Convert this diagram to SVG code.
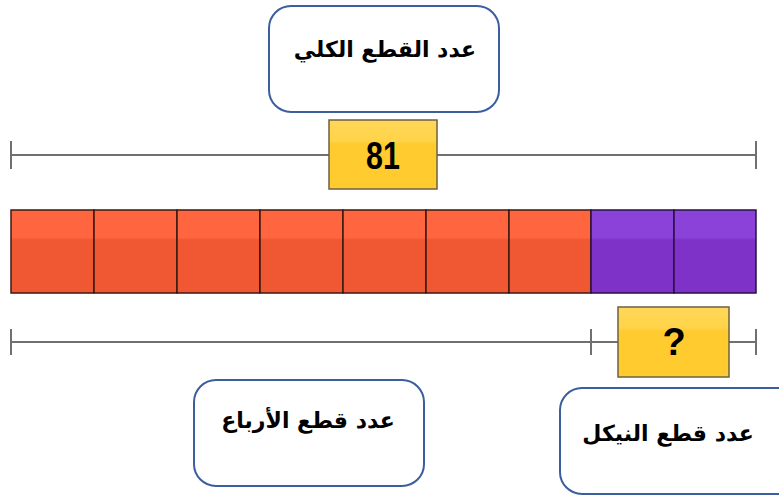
<svg xmlns="http://www.w3.org/2000/svg" width="779" height="496" viewBox="0 0 779 496">
<defs>
<linearGradient id="gy" x1="0" y1="0" x2="0" y2="1"><stop offset="0" stop-color="#FFD75A"/><stop offset="0.3" stop-color="#FFD448"/><stop offset="0.35" stop-color="#FFCB2E"/><stop offset="1" stop-color="#FFCB2E"/></linearGradient>
<linearGradient id="go" x1="0" y1="0" x2="0" y2="1"><stop offset="0" stop-color="#FF6640"/><stop offset="0.33" stop-color="#FF6640"/><stop offset="0.36" stop-color="#F05833"/><stop offset="1" stop-color="#F05833"/></linearGradient>
<linearGradient id="gp" x1="0" y1="0" x2="0" y2="1"><stop offset="0" stop-color="#8B42D8"/><stop offset="0.33" stop-color="#8B42D8"/><stop offset="0.36" stop-color="#7E32C8"/><stop offset="1" stop-color="#7E32C8"/></linearGradient>
</defs>
<style>
.lbl{fill:#fff;stroke:#3A5E9E;stroke-width:2}
.ar{font-family:"DejaVu Sans",sans-serif;font-weight:bold;font-size:22px;fill:#000;text-anchor:middle}
.num{font-family:"Liberation Sans",Arial,sans-serif;font-weight:bold;font-size:38px;fill:#000;text-anchor:middle}
.ln{stroke:#707070;stroke-width:2;fill:none}
.yb{fill:url(#gy);stroke:#6E6040;stroke-width:1.5}
.o{fill:url(#go);stroke:#3A1A10;stroke-width:1.5}
.p{fill:url(#gp);stroke:#2A1040;stroke-width:1.5}
</style>
<rect width="779" height="496" fill="#fff"/>
<g id="connectors">
<line class="ln" x1="11" y1="155" x2="756" y2="155"/>
<line class="ln" x1="11" y1="141" x2="11" y2="169"/>
<line class="ln" x1="756" y1="141" x2="756" y2="169"/>
<line class="ln" x1="11" y1="342" x2="756" y2="342"/>
<line class="ln" x1="11" y1="329" x2="11" y2="355"/>
<line class="ln" x1="591" y1="329" x2="591" y2="355"/>
<line class="ln" x1="756" y1="329" x2="756" y2="355"/>
</g>
<g id="label-total"><rect class="lbl" x="269" y="6" width="230" height="106" rx="22"/><text class="ar" x="385" y="57">عدد القطع الكلي</text></g>
<g id="value-81"><rect class="yb" x="329" y="120" width="108" height="69"/><text class="num" x="383" y="169" transform="translate(383 0) scale(0.8 1) translate(-383 0)">81</text></g>
<g id="bar">
<rect class="o" x="11" y="210" width="83" height="83"/>
<rect class="o" x="94" y="210" width="83" height="83"/>
<rect class="o" x="177" y="210" width="83" height="83"/>
<rect class="o" x="260" y="210" width="83" height="83"/>
<rect class="o" x="343" y="210" width="83" height="83"/>
<rect class="o" x="426" y="210" width="83" height="83"/>
<rect class="o" x="509" y="210" width="82" height="83"/>
<rect class="p" x="591" y="210" width="83" height="83"/>
<rect class="p" x="674" y="210" width="82" height="83"/>
</g>
<g id="value-q"><rect class="yb" x="618" y="307" width="111" height="70"/><text class="num" x="674" y="355" font-size="32">?</text></g>
<g id="label-quarters"><rect class="lbl" x="194" y="380" width="230" height="106" rx="22"/><text class="ar" x="308" y="428">عدد قطع الأرباع</text></g>
<g id="label-nickels"><rect class="lbl" x="560" y="388" width="240" height="106" rx="22"/><text class="ar" x="668" y="441">عدد قطع النيكل</text></g>
</svg>
